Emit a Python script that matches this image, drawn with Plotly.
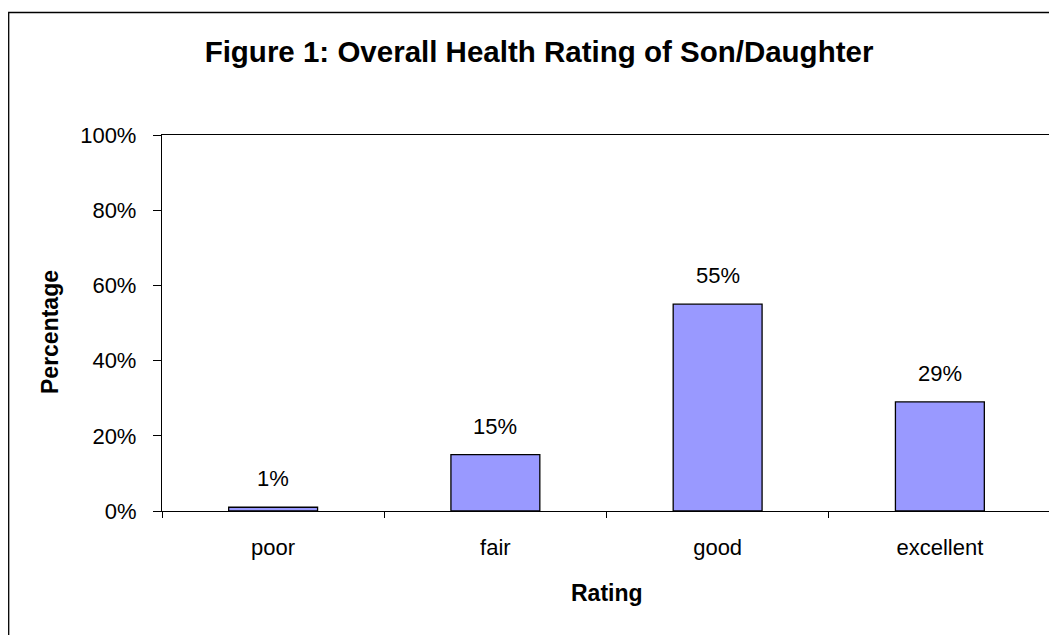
import plotly.graph_objects as go

categories = ["poor", "fair", "good", "excellent"]
values = [1, 15, 55, 29]
value_labels = ["1%", "15%", "55%", "29%"]
y_ticks = [0, 20, 40, 60, 80, 100]
y_tick_labels = ["0%", "20%", "40%", "60%", "80%", "100%"]

OFF = 8  # default page body margin
W, H = 1057 - OFF, 635 - OFF
# plot area in page pixels: x 162..1051, y 135..511
L = 162 - OFF
R = W - (1051 - OFF)
T = 135 - OFF
B = H - (511 - OFF)
pw, ph = W - L - R, H - T - B
FONT = "Liberation Sans, Arial, sans-serif"


def px_x(page_x):
    return (page_x - OFF - L) / pw


def px_y(page_y):
    return (H - B - (page_y - OFF)) / ph


fig = go.Figure()
fig.add_trace(go.Bar(
    x=categories, y=values,
    marker=dict(color="#9999FF", line=dict(color="black", width=1.3)),
    hoverinfo="skip",
))

for c, v, t in zip(categories, values, value_labels):
    fig.add_annotation(x=c, y=v, text=t, showarrow=False, yanchor="bottom",
                       yshift=14, font=dict(family=FONT, size=22, color="black"))

# axis titles
fig.add_annotation(xref="paper", yref="paper", x=px_x(607), y=px_y(593),
                   text="<b>Rating</b>", showarrow=False, xanchor="center", yanchor="middle",
                   font=dict(family=FONT, size=23, color="black"))
fig.add_annotation(xref="paper", yref="paper", x=px_x(50), y=px_y(332),
                   text="<b>Percentage</b>", showarrow=False, textangle=-90,
                   xanchor="center", yanchor="middle",
                   font=dict(family=FONT, size=23, color="black"))

# outer chart-area border (cut off at right and bottom like the reference)
fig.add_shape(type="rect", xref="paper", yref="paper",
              x0=px_x(8.7), x1=px_x(1080),
              y0=px_y(680), y1=px_y(12.5),
              line=dict(color="black", width=1.3), fillcolor="rgba(0,0,0,0)", layer="below")

fig.update_layout(
    width=W, height=H,
    margin=dict(l=L, r=R, t=T, b=B, autoexpand=False),
    paper_bgcolor="white", plot_bgcolor="white",
    showlegend=False,
    bargap=0.6,
    title=dict(text="<b>Figure 1: Overall Health Rating of Son/Daughter</b>",
               xref="container", yref="container",
               x=(539 - OFF) / W, y=1 - (52 - OFF) / H,
               xanchor="center", yanchor="middle",
               font=dict(family=FONT, size=29.5, color="black")),
    font=dict(family=FONT, color="black"),
)
fig.update_xaxes(
    type="category", showline=True, linecolor="black", linewidth=1.3, mirror=True,
    ticks="outside", tickson="boundaries", ticklen=6, tickcolor="black", tickwidth=1,
    tickfont=dict(family=FONT, size=22, color="black"), ticklabelstandoff=16,
    showgrid=False, zeroline=False,
)
fig.update_yaxes(
    range=[0, 100], tickvals=y_ticks, ticktext=y_tick_labels,
    showline=True, linecolor="black", linewidth=1.3, mirror=True,
    ticks="outside", ticklen=8, tickcolor="black", tickwidth=1,
    tickfont=dict(family=FONT, size=22, color="black"), ticklabelstandoff=12,
    showgrid=False, zeroline=False,
)

fig.write_html("out.html")
